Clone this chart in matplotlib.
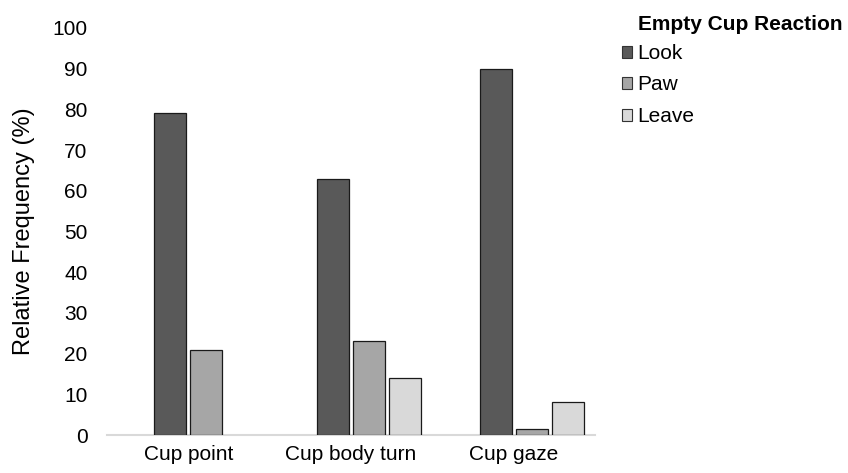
import numpy as np
import matplotlib.pyplot as plt
from matplotlib.patches import Patch

plt.rcParams['font.family'] = ['Liberation Sans', 'DejaVu Sans']

# chart data
categories = ['Cup point', 'Cup body turn', 'Cup gaze']
reactions = ['Look', 'Paw', 'Leave']
look = [79, 63, 90]
paw = [21, 23, 1.5]
leave = [0, 14, 8.2]
colors = ['#595959', '#a6a6a6', '#d9d9d9']

fig = plt.figure(figsize=(8.48, 4.73), dpi=100)
ax = fig.add_axes([0.126, 0.0803, 0.576, 0.8607])

x = np.arange(len(categories))
step = 0.221
width = 0.195
offsets = [-0.5, 0.5, 1.5]
for vals, off, col in zip([look, paw, leave], offsets, colors):
    heights = np.array(vals, dtype=float)
    bars = ax.bar(x + off * step, heights, width=width, color=col,
                  edgecolor='#1a1a1a', linewidth=0.9, zorder=2)
    # no visible mark where a reaction never occurred
    for b, h in zip(bars, heights):
        if h == 0:
            b.set_visible(False)

ax.set_xlim(-0.5, 2.5)
ax.set_ylim(0, 100)
ax.set_yticks(range(0, 101, 10))
ax.set_xticks(x)
ax.set_xticklabels(categories)
ax.tick_params(axis='both', length=0, labelsize=15, colors='black')
ax.tick_params(axis='y', pad=14)
ax.tick_params(axis='x', pad=7)

for s in ['top', 'right', 'left']:
    ax.spines[s].set_visible(False)
ax.spines['bottom'].set_color('#d9d9d9')
ax.spines['bottom'].set_linewidth(1.5)
ax.spines['bottom'].set_zorder(1)

ax.set_ylabel('Relative Frequency (%)', fontsize=17)
ax.yaxis.set_label_coords(-0.147, 0.5)

fig.text(0.752, 0.948, 'Empty Cup Reaction', fontsize=15, fontweight='bold',
         ha='left', va='center')
handles = [Patch(facecolor=c, edgecolor='#333333', linewidth=0.8) for c in colors]
leg = ax.legend(handles, reactions, loc='upper left', bbox_to_anchor=(0.733, 0.907),
                bbox_transform=fig.transFigure, frameon=False, fontsize=15,
                handlelength=0.52, handleheight=0.52, handletextpad=0.25,
                labelspacing=0.6, borderpad=0, borderaxespad=0)

fig.savefig('out.png', dpi=100)
